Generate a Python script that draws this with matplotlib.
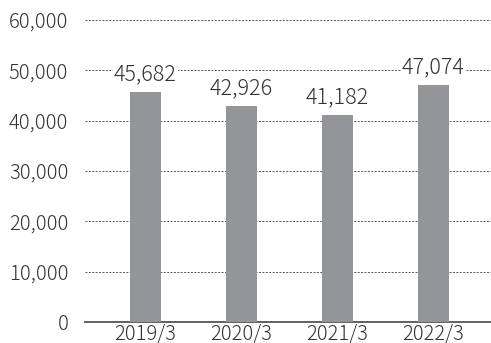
import matplotlib
matplotlib.use("Agg")
import matplotlib.pyplot as plt

categories = ["2019/3", "2020/3", "2021/3", "2022/3"]
values = [45682, 42926, 41182, 47074]
yticks = [0, 10000, 20000, 30000, 40000, 50000, 60000]

plt.rcParams['font.family'] = ['Noto Sans CJK JP', 'DejaVu Sans']
plt.rcParams['font.weight'] = 'light'

fig = plt.figure(figsize=(4.91, 3.43), dpi=100)
ax = fig.add_axes([0.173, 0.0612, 0.827, 0.8805])
x = list(range(len(categories)))
ax.bar(x, values, width=0.32, color="#939598", zorder=3)
ax.set_xlim(-0.63, 3.6)
ax.set_ylim(0, 60000)
ax.set_yticks(yticks)
ax.set_yticklabels([f"{v:,}" for v in yticks], fontsize=14.5, color="#333333", fontweight='light')
ax.set_xticks(x)
ax.set_xticklabels(categories, fontsize=14.5, color="#333333", fontweight='light')
ax.tick_params(axis='y', length=0, pad=12)
ax.tick_params(axis='x', length=0, pad=1)
for s in ["top", "right", "left"]:
    ax.spines[s].set_visible(False)
ax.spines["bottom"].set_color("#555555")
ax.spines["bottom"].set_linewidth(1.3)
ax.yaxis.grid(True, linestyle=(0, (2, 1.5)), color="#555555", linewidth=0.7, zorder=0)
for xi, v in zip(x, values):
    ax.text(xi, v + 1300, f"{v:,}", ha="center", va="bottom", fontsize=15.5, color="#333333",
            fontweight='light',
            bbox=dict(facecolor="white", edgecolor="none", pad=0.5), zorder=4)
fig.savefig("out.png", dpi=100)
